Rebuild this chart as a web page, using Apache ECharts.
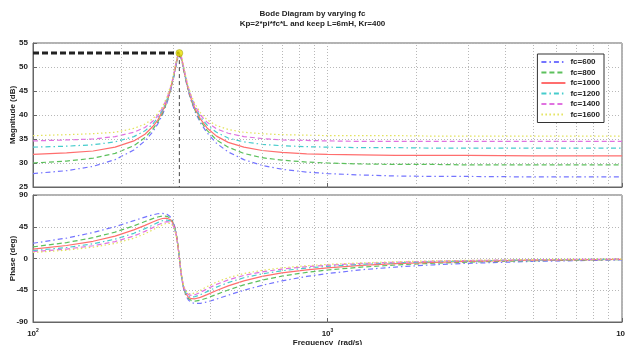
<!DOCTYPE html>
<html>
<head>
<meta charset="utf-8">
<script src="https://cdn.jsdelivr.net/npm/echarts@6/dist/echarts.min.js"></script>
<style>
  html, body { margin: 0; background: #fff; }
  #main { width: 625px; height: 345px; }
</style>
</head>
<body>
<div id="main"></div>
<script>
// frequency points (rad/s)
const freq = [100,130,160,190,220,240,255,265,275,285,292,298,303,307,310,312,314,316,318,321,325,330,337,345,355,370,390,420,460,520,600,700,850,1000,1300,1700,2300,3000,5000,10000];

const names = ['fc=600', 'fc=800', 'fc=1000', 'fc=1200', 'fc=1400', 'fc=1600'];

// magnitude (dB)
const mag600  = [27.8,28.4,29.3,30.7,32.7,34.6,36.5,38.1,40.0,42.5,44.6,46.8,48.9,50.7,51.8,52.3,52.5,52.4,51.9,50.9,49.2,47.3,44.9,42.8,40.7,38.4,36.3,34.1,32.3,30.7,29.5,28.7,28.1,27.8,27.5,27.3,27.2,27.2,27.1,27.1];
const mag800  = [30.0,30.4,31.0,32.0,33.6,35.3,37.0,38.5,40.3,42.7,44.8,47.0,49.1,50.9,52.0,52.5,52.7,52.5,52.1,51.0,49.4,47.4,45.1,43.0,41.0,38.8,36.8,34.8,33.3,32.0,31.1,30.6,30.2,30.0,29.8,29.7,29.7,29.6,29.6,29.6];
const mag1000 = [31.8,32.1,32.5,33.3,34.6,36.0,37.6,38.9,40.7,43.0,45.0,47.2,49.3,51.0,52.1,52.6,52.8,52.7,52.2,51.2,49.6,47.6,45.3,43.2,41.3,39.2,37.3,35.6,34.3,33.3,32.6,32.2,31.9,31.8,31.7,31.6,31.6,31.6,31.5,31.5];
const mag1200 = [33.3,33.5,33.8,34.4,35.5,36.7,38.1,39.4,41.0,43.2,45.2,47.4,49.4,51.2,52.3,52.8,53.0,52.8,52.4,51.4,49.7,47.8,45.5,43.5,41.6,39.6,37.9,36.4,35.2,34.4,33.9,33.6,33.4,33.3,33.2,33.2,33.1,33.1,33.1,33.1];
const mag1400 = [34.6,34.8,35.0,35.5,36.4,37.4,38.7,39.8,41.4,43.5,45.4,47.5,49.6,51.3,52.4,52.9,53.1,53.0,52.5,51.5,49.9,48.0,45.7,43.7,41.9,40.0,38.5,37.1,36.2,35.5,35.1,34.8,34.7,34.6,34.5,34.5,34.5,34.5,34.5,34.5];
const mag1600 = [35.7,35.9,36.1,36.4,37.2,38.1,39.2,40.3,41.7,43.7,45.7,47.7,49.8,51.5,52.6,53.1,53.3,53.1,52.7,51.7,50.1,48.1,45.9,44.0,42.3,40.5,39.0,37.8,37.0,36.4,36.1,35.9,35.8,35.7,35.7,35.7,35.6,35.6,35.6,35.6];

// phase (deg)
const ph600  = [21.6,28.9,36.8,45.1,53.6,58.7,61.9,63.4,63.9,62.6,59.5,53.9,45.2,33.7,21.4,11.6,0.9,-9.8,-19.7,-32.0,-43.6,-52.4,-58.9,-62.3,-63.8,-63.6,-61.6,-57.5,-52.0,-45.1,-38.0,-31.7,-25.4,-21.3,-16.0,-12.1,-8.9,-6.8,-4.1,-2.0];
const ph800  = [16.5,22.6,29.5,37.4,46.3,52.4,56.6,58.8,60.2,59.8,57.3,52.3,44.1,33.0,21.0,11.4,0.9,-9.7,-19.4,-31.4,-42.6,-50.9,-56.8,-59.6,-60.3,-59.1,-56.0,-50.9,-44.6,-37.4,-30.6,-25.0,-19.7,-16.3,-12.2,-9.2,-6.7,-5.1,-3.1,-1.5];
const ph1000 = [13.4,18.4,24.4,31.7,40.5,46.9,51.8,54.6,56.7,57.1,55.3,50.8,43.1,32.3,20.7,11.2,0.8,-9.5,-19.0,-30.8,-41.6,-49.5,-54.9,-57.0,-57.1,-55.1,-51.2,-45.3,-38.8,-31.7,-25.4,-20.5,-16.0,-13.2,-9.8,-7.4,-5.4,-4.1,-2.4,-1.2];
const ph1200 = [11.2,15.6,20.8,27.4,35.7,42.3,47.5,50.8,53.5,54.6,53.4,49.4,42.1,31.7,20.3,11.0,0.8,-9.3,-18.7,-30.2,-40.7,-48.2,-53.0,-54.6,-54.1,-51.4,-46.9,-40.6,-34.1,-27.3,-21.7,-17.4,-13.5,-11.1,-8.2,-6.1,-4.5,-3.4,-2.0,-1.0];
const ph1400 = [9.7,13.4,18.1,24.0,31.9,38.4,43.8,47.4,50.5,52.3,51.5,48.0,41.1,31.1,19.9,10.8,0.8,-9.2,-18.4,-29.6,-39.8,-46.9,-51.2,-52.3,-51.3,-48.0,-43.1,-36.7,-30.3,-24.0,-18.9,-15.0,-11.6,-9.5,-7.0,-5.3,-3.8,-2.9,-1.7,-0.9];
const ph1600 = [8.5,11.8,16.0,21.4,28.7,35.1,40.5,44.3,47.8,50.1,49.7,46.7,40.2,30.5,19.6,10.6,0.8,-9.0,-18.0,-29.0,-38.9,-45.7,-49.5,-50.1,-48.7,-45.0,-39.8,-33.4,-27.2,-21.3,-16.7,-13.2,-10.2,-8.3,-6.2,-4.6,-3.4,-2.6,-1.5,-0.8];

// log grid lines between decades
const minorGrid = [200,300,400,500,600,700,800,900,2000,3000,4000,5000,6000,7000,8000,9000];

// data tip on the peak
const tipFreq = [100, 314];
const tipMag = 52.9;

const colors = ['#7474ff', '#5cc05c', '#ff6e6e', '#46cccc', '#e072e0', '#e2e25a'];
const dashes = [[5,3,1.5,3], [5,3], 'solid', [5,3,1.5,3], [5,3], [1.5,2.5]];
const magAll = [mag600, mag800, mag1000, mag1200, mag1400, mag1600];
const phAll = [ph600, ph800, ph1000, ph1200, ph1400, ph1600];

const font = '"Liberation Sans", Arial, sans-serif';
const txt = { fontFamily: font, fontSize: 8, fontWeight: 'bold', color: '#222' };
const gridLine = { show: true, lineStyle: { color: '#b8b8b8', type: [1, 2], width: 1 } };

const xBase = {
  type: 'log', logBase: 10, min: 100, max: 10000,
  axisLine: { show: true, onZero: false, lineStyle: { color: '#666' } },
  axisTick: { inside: true, length: 4, lineStyle: { color: '#666' } },
  splitLine: gridLine
};
const yBase = {
  type: 'value',
  axisLine: { show: true, lineStyle: { color: '#666' } },
  axisTick: { inside: true, length: 4, lineStyle: { color: '#666' } },
  splitLine: gridLine,
  nameLocation: 'middle', nameGap: 16, nameMoveOverlap: false,
  nameTextStyle: txt,
  axisLabel: Object.assign({ margin: 5 }, txt)
};

const series = [];
[0, 1].forEach(g => {
  series.push({
    type: 'line', xAxisIndex: g, yAxisIndex: g, data: [], silent: true, z: 1,
    markLine: {
      silent: true, symbol: 'none', label: { show: false },
      lineStyle: { color: '#b8b8b8', type: [1, 2], width: 1 },
      data: minorGrid.map(v => ({ xAxis: v }))
    }
  });
});
names.forEach((n, i) => {
  series.push({
    name: n, type: 'line', xAxisIndex: 0, yAxisIndex: 0, showSymbol: false, symbol: 'none',
    lineStyle: { color: colors[i], width: 1.2, type: dashes[i] }, itemStyle: { color: colors[i] },
    data: freq.map((f, k) => [f, magAll[i][k]]), z: 3
  });
  series.push({
    name: n, type: 'line', xAxisIndex: 1, yAxisIndex: 1, showSymbol: false, symbol: 'none',
    lineStyle: { color: colors[i], width: 1.2, type: dashes[i] }, itemStyle: { color: colors[i] },
    data: freq.map((f, k) => [f, phAll[i][k]]), z: 3
  });
});
// data tip lines and marker
series.push({
  type: 'line', xAxisIndex: 0, yAxisIndex: 0, symbol: 'none', silent: true, z: 5,
  lineStyle: { color: '#222', width: 3, type: [6, 3] },
  data: tipFreq.map(f => [f, tipMag])
});
series.push({
  type: 'line', xAxisIndex: 0, yAxisIndex: 0, symbol: 'none', silent: true, z: 5,
  lineStyle: { color: '#444', width: 1, type: [4, 3] },
  data: [[tipFreq[1], tipMag], [tipFreq[1], 25]]
});
series.push({
  type: 'scatter', xAxisIndex: 0, yAxisIndex: 0, silent: true, z: 6,
  symbolSize: 7, itemStyle: { color: '#e8e000', borderColor: '#888800', borderWidth: 0.5 },
  data: [[tipFreq[1], tipMag]]
});

const chart = echarts.init(document.getElementById('main'), null, { renderer: 'canvas' });
chart.setOption({
  animation: false,
  backgroundColor: '#fff',
  title: {
    text: 'Bode Diagram by varying fc\nKp=2*pi*fc*L and keep L=6mH, Kr=400',
    left: 'center', top: 4,
    textStyle: Object.assign({ lineHeight: 10 }, txt)
  },
  legend: {
    data: names, orient: 'vertical', right: 21, top: 54,
    itemWidth: 24, itemHeight: 8, itemGap: 2.5,
    itemStyle: { opacity: 0 },
    backgroundColor: '#fff', borderColor: '#333', borderWidth: 1, padding: [4, 4, 4, 3],
    textStyle: txt, z: 10
  },
  grid: [
    { left: 33, right: 3, top: 43, height: 144, show: true, borderColor: '#666', borderWidth: 1,
      containLabel: false, outerBoundsMode: 'none' },
    { left: 33, right: 3, top: 195, height: 127, show: true, borderColor: '#666', borderWidth: 1,
      containLabel: false, outerBoundsMode: 'none' }
  ],
  xAxis: [
    Object.assign({}, xBase, { gridIndex: 0, axisLabel: { show: false } }),
    Object.assign({}, xBase, {
      gridIndex: 1,
      name: 'Frequency  (rad/s)', nameLocation: 'middle', nameGap: 17, nameTextStyle: txt,
      axisLabel: Object.assign({}, txt, {
        margin: 6,
        formatter: v => '10{s|' + Math.round(Math.log10(v)) + '}',
        rich: { s: { fontFamily: font, fontSize: 5, fontWeight: 'bold', color: '#222', padding: [0, 0, 6, 0] } }
      })
    })
  ],
  yAxis: [
    Object.assign({}, yBase, { gridIndex: 0, min: 25, max: 55, interval: 5, name: 'Magnitude (dB)' }),
    Object.assign({}, yBase, { gridIndex: 1, min: -90, max: 90, interval: 45, name: 'Phase (deg)' })
  ],
  series: series
});
</script>
</body>
</html>
